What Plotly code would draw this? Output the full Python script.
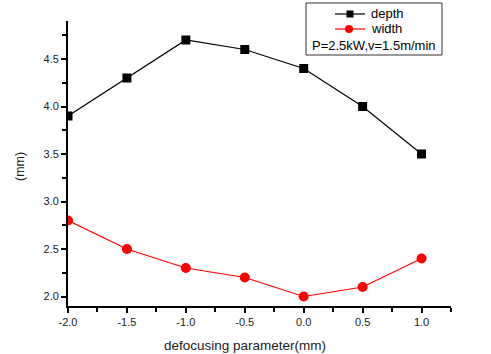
import plotly.graph_objects as go

x_vals = [-2.0, -1.5, -1.0, -0.5, 0.0, 0.5, 1.0]
depth = [3.9, 4.3, 4.7, 4.6, 4.4, 4.0, 3.5]
width = [2.8, 2.5, 2.3, 2.2, 2.0, 2.1, 2.4]
x_ticks = [-2.0, -1.5, -1.0, -0.5, 0.0, 0.5, 1.0]
x_tick_labels = ["-2.0", "-1.5", "-1.0", "-0.5", "0.0", "0.5", "1.0"]
y_ticks = [2.0, 2.5, 3.0, 3.5, 4.0, 4.5]
y_tick_labels = ["2.0", "2.5", "3.0", "3.5", "4.0", "4.5"]
series_names = ["depth", "width"]
note_text = "P=2.5kW,v=1.5m/min"

W, H = 491, 354
L, R, T, B = 68, 40, 21, 48
pw, ph = W - L - R, H - T - B

def px(xp):
    return (xp - L) / pw

def py(yp):
    return (H - B - yp) / ph

font = "Liberation Sans, Arial, sans-serif"
colors = ["black", "#ff0000"]
symbols = ["square", "circle"]

fig = go.Figure()
fig.add_trace(go.Scatter(x=x_vals, y=depth, mode="lines+markers", name=series_names[0],
                         line=dict(color=colors[0], width=1.2),
                         marker=dict(symbol=symbols[0], size=9, color=colors[0])))
fig.add_trace(go.Scatter(x=x_vals, y=width, mode="lines+markers", name=series_names[1],
                         line=dict(color=colors[1], width=1.2),
                         marker=dict(symbol=symbols[1], size=10, color=colors[1])))

axis_common = dict(showgrid=False, zeroline=False, showline=True, linecolor="black",
                   linewidth=1.8, ticks="outside", ticklen=5, tickwidth=1.5,
                   tickcolor="black", tickfont=dict(family=font, size=11, color="#222"),
                   mirror=False)

fig.update_xaxes(range=[-2.0, 1.25], tickvals=x_ticks, ticktext=x_tick_labels,
                 ticklabelstandoff=0,
                 minor=dict(dtick=0.25, tick0=0, ticks="outside", ticklen=4, tickwidth=1.5, tickcolor="black"),
                 **axis_common)
fig.update_yaxes(range=[1.9, 4.9], tickvals=y_ticks, ticktext=y_tick_labels,
                 minor=dict(dtick=0.25, tick0=0, ticks="outside", ticklen=4, tickwidth=1.5, tickcolor="black"),
                 **axis_common)

# axis titles
fig.add_annotation(xref="paper", yref="paper", x=px(245), y=py(345),
                   text="defocusing parameter(mm)", showarrow=False,
                   font=dict(family=font, size=13.5, color="#222"),
                   xanchor="center", yanchor="middle")
fig.add_annotation(xref="paper", yref="paper", x=px(20), y=py(167),
                   text="(mm)", showarrow=False, textangle=-90,
                   font=dict(family=font, size=12.5, color="#222"),
                   xanchor="center", yanchor="middle")

# legend box (manual)
fig.add_shape(type="rect", xref="paper", yref="paper",
              x0=px(306), x1=px(442), y0=py(55), y1=py(3),
              line=dict(color="#333", width=1), fillcolor="white", layer="above")
rows_y = [14, 29]
for i in range(2):
    yy = py(rows_y[i])
    fig.add_shape(type="line", xref="paper", yref="paper",
                  x0=px(335), x1=px(365), y0=yy, y1=yy,
                  line=dict(color=colors[i], width=1.2), layer="above")
    fig.add_annotation(xref="paper", yref="paper", x=px(369), y=yy,
                       text=series_names[i], showarrow=False,
                       font=dict(family=font, size=13, color="black"),
                       xanchor="left", yanchor="middle")
# legend symbols
fig.add_shape(type="rect", xref="paper", yref="paper",
              x0=px(346.5), x1=px(353.5), y0=py(rows_y[0] + 3.5), y1=py(rows_y[0] - 3.5),
              line=dict(width=0), fillcolor=colors[0], layer="above")
fig.add_shape(type="circle", xref="paper", yref="paper",
              x0=px(345), x1=px(353), y0=py(rows_y[1] + 4), y1=py(rows_y[1] - 4),
              line=dict(width=0), fillcolor=colors[1], layer="above")
fig.add_annotation(xref="paper", yref="paper", x=px(374), y=py(45),
                   text=note_text, showarrow=False,
                   font=dict(family=font, size=13, color="black"),
                   xanchor="center", yanchor="middle")

fig.update_layout(
    width=W, height=H,
    margin=dict(l=L, r=R, t=T, b=B, autoexpand=False),
    plot_bgcolor="white", paper_bgcolor="white",
    showlegend=False,
)

fig.write_html("out.html")
